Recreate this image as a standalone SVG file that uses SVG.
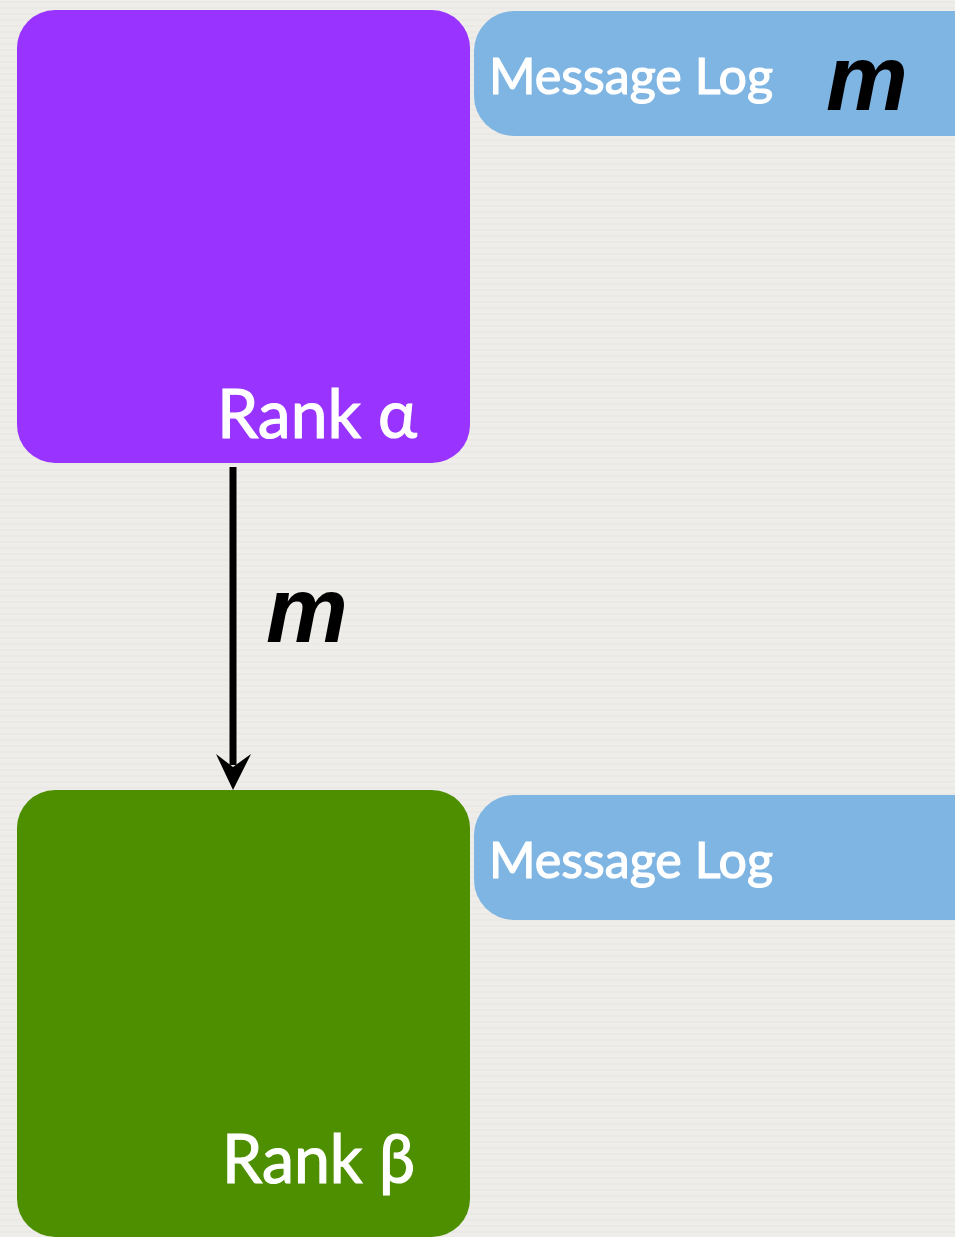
<svg xmlns="http://www.w3.org/2000/svg" width="955" height="1237" viewBox="0 0 955 1237">
  <defs>
    <style>
      .label { font-family: "Lato", "Open Sans", "Liberation Sans", sans-serif; fill: #ffffff; stroke: #ffffff; stroke-width: 1.2px; }
      .rank { font-size: 68px; }
      .log { font-size: 50px; }
      .msg { font-family: "Liberation Sans", Arial, sans-serif; font-weight: bold; font-style: italic; font-size: 92px; fill: #000000; }
      .log-box { fill: #7FB5E3; }
      .edge { stroke: #000000; stroke-width: 7; fill: none; }
    </style>
    <!-- faint linen texture for the backdrop -->
    <pattern id="linen" width="40" height="6" patternUnits="userSpaceOnUse">
      <rect width="40" height="6" fill="#EEEDE9"/>
      <line x1="0" y1="2" x2="40" y2="2" stroke="#E7E6E1" stroke-width="1"/>
    </pattern>
  </defs>

  <rect width="955" height="1237" fill="url(#linen)"/>

  <!-- sender -->
  <g id="rank-alpha">
    <rect x="17" y="10" width="453" height="453" rx="38" fill="#9933FF"/>
    <text class="label rank" x="217" y="438" textLength="200" lengthAdjust="spacingAndGlyphs">Rank α</text>
  </g>

  <g id="log-alpha">
    <rect class="log-box" x="474" y="11" width="520" height="125" rx="40"/>
    <text class="label log" x="489" y="94" textLength="284" lengthAdjust="spacingAndGlyphs">Message Log</text>
    <text class="msg" x="826" y="110">m</text>
  </g>

  <!-- receiver -->
  <g id="rank-beta">
    <rect x="17" y="790" width="453" height="447" rx="38" fill="#4E8F00"/>
    <text class="label rank" x="222" y="1183" textLength="193" lengthAdjust="spacingAndGlyphs">Rank β</text>
  </g>

  <g id="log-beta">
    <rect class="log-box" x="474" y="795" width="520" height="125" rx="40"/>
    <text class="label log" x="489" y="878" textLength="284" lengthAdjust="spacingAndGlyphs">Message Log</text>
  </g>

  <!-- message transfer -->
  <g id="connectors">
    <line class="edge" x1="233" y1="467" x2="233" y2="765"/>
    <path d="M216 754 L233 767 L251 754 L233 790 Z" fill="#000000"/>
    <text class="msg" x="266" y="642">m</text>
  </g>
</svg>
